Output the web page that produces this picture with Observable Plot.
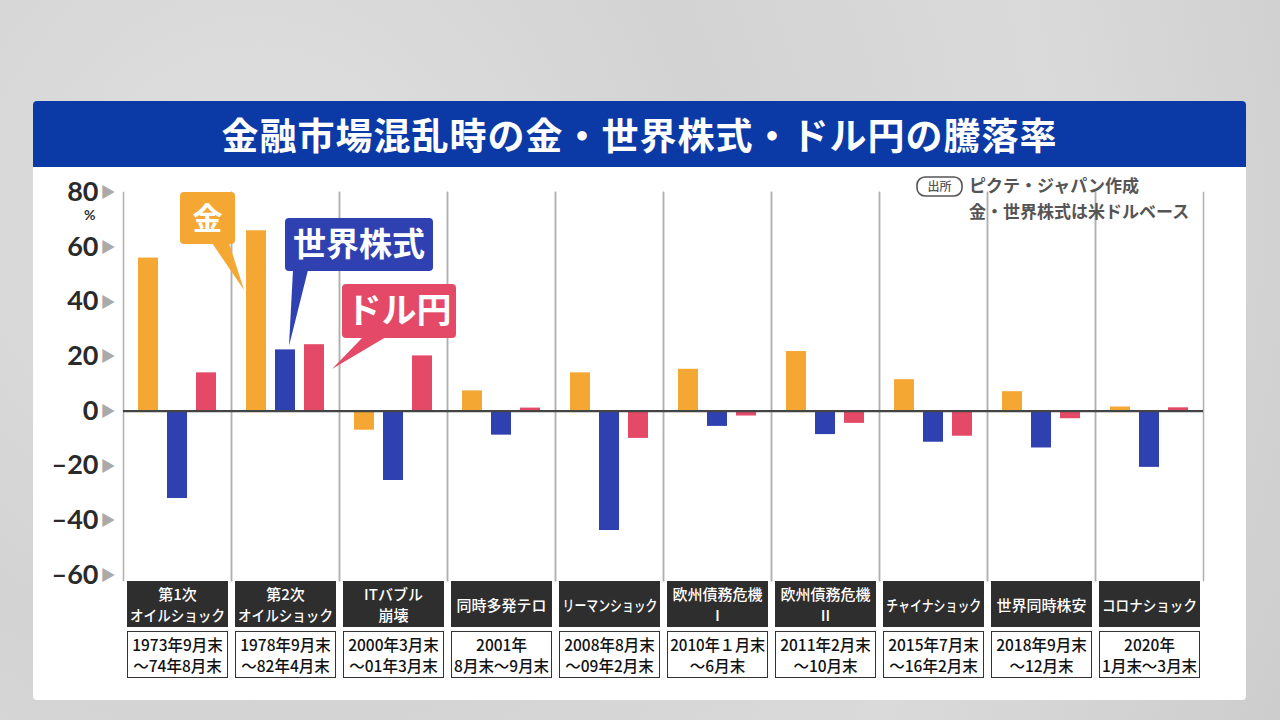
<!DOCTYPE html>
<html><head><meta charset="utf-8">
<script src="https://cdn.jsdelivr.net/npm/d3@7"></script>
<script src="https://cdn.jsdelivr.net/npm/@observablehq/plot@0.6"></script>
<style>
body{margin:0;width:1280px;height:720px;overflow:hidden;background:#d7d7d7;font-family:"Noto Sans CJK JP",sans-serif;position:relative}
#bg{position:absolute;inset:0;background:radial-gradient(circle at 20% 30%,#e0e0e0 0,#d3d3d3 40%,#dadada 70%,#cdcdcd 100%)}
#card{position:absolute;left:33px;top:101px;width:1213px;height:599px;background:#fff;border-radius:4px;overflow:hidden}
#title{position:absolute;left:0;top:0;width:100%;height:66px;background:#0B3AA6;color:#fff;font-weight:700;font-size:37px;text-align:center;line-height:66px;letter-spacing:1px}
#chart{position:absolute;left:33px;top:170px}
#pct{position:absolute;left:84px;top:208px;font-family:Lato,sans-serif;font-size:14px;line-height:14px;font-weight:700;color:#333}
.lab{position:absolute;box-sizing:border-box;width:101px;text-align:center;display:flex;flex-direction:column;align-items:center;justify-content:center;overflow:visible}
.lab span{display:block;white-space:nowrap;transform-origin:center}
.cat{top:581px;height:46px;background:#2e2e2e;color:#fff;font-size:15px;line-height:21px;font-weight:500}
.per{top:631px;height:47px;background:#fff;border:1.5px solid #333;color:#111;font-size:15.5px;line-height:21px;font-weight:500}
#overlay{position:absolute;left:0;top:0}
</style></head>
<body>
<div id="bg"></div>
<div id="card"><div id="title">金融市場混乱時の金・世界株式・ドル円の騰落率</div></div>
<div id="chart"></div>
<div id="pct">%</div>
<div id="labels"></div>
<svg id="overlay" width="1280" height="720">
  <rect x="917" y="177" width="45" height="19" rx="8" fill="none" stroke="#555" stroke-width="1.6"/>
  <text x="939.5" y="191" text-anchor="middle" font-size="12" font-weight="500" fill="#555" font-family="Noto Sans CJK JP">出所</text>
  <text x="969" y="192" font-size="17" font-weight="700" fill="#555" font-family="Noto Sans CJK JP">ピクテ・ジャパン作成</text>
  <text x="969" y="218" font-size="17" font-weight="700" fill="#555" font-family="Noto Sans CJK JP">金・世界株式は米ドルベース</text>

  <rect x="180" y="192" width="55" height="52" rx="4" fill="#F5A733"/>
  <path d="M212,243 L229,243 L244,290 Z" fill="#F5A733"/>
  <text x="207.5" y="229" text-anchor="middle" font-size="30" font-weight="700" fill="#fff" font-family="Noto Sans CJK JP">金</text>

  <rect x="285" y="218" width="148" height="53" rx="4" fill="#2F41B0"/>
  <path d="M293,270 L308,270 L289,346 Z" fill="#2F41B0"/>
  <text x="359" y="256" text-anchor="middle" font-size="33" font-weight="700" fill="#fff" font-family="Noto Sans CJK JP">世界株式</text>

  <rect x="342" y="284" width="114" height="54" rx="4" fill="#E44A68"/>
  <path d="M363,337 L386,337 L332,369 Z" fill="#E44A68"/>
  <text x="399" y="323" text-anchor="middle" font-size="35" font-weight="700" fill="#fff" font-family="Noto Sans CJK JP">ドル円</text>
</svg>
<script>
const eventNames = ["第1次\nオイルショック","第2次\nオイルショック","ITバブル\n崩壊","同時多発テロ","リーマンショック","欧州債務危機\nⅠ","欧州債務危機\nⅡ","チャイナショック","世界同時株安","コロナショック"];
const eventPeriods = ["1973年9月末\n〜74年8月末","1978年9月末\n〜82年4月末","2000年3月末\n〜01年3月末","2001年\n8月末〜9月末","2008年8月末\n〜09年2月末","2010年１月末\n〜6月末","2011年2月末\n〜10月末","2015年7月末\n〜16年2月末","2018年9月末\n〜12月末","2020年\n1月末〜3月末"];
const seriesNames = ["金","世界株式","ドル円"];
const seriesColors = ["#F5A733","#2F41B0","#E44A68"];
const gold   = [56, 66, -7, 7.4, 14, 15.3, 21.8, 11.5, 7.1, 1.5];
const stocks = [-32, 22.4, -25.4, -8.8, -43.7, -5.6, -8.6, -11.4, -13.5, -20.6];
const yen    = [14, 24.3, 20.2, 1.1, -10, -1.8, -4.5, -9.2, -2.8, 1.2];
const yTicks = [80, 60, 40, 20, 0, -20, -40, -60];

const rows = [];
eventNames.forEach((e, i) => {
  rows.push({event: e, series: seriesNames[0], value: gold[i]});
  rows.push({event: e, series: seriesNames[1], value: stocks[i]});
  rows.push({event: e, series: seriesNames[2], value: yen[i]});
});

const chart = Plot.plot({
  width: 1200, height: 420,
  marginLeft: 90, marginRight: 30, marginTop: 22, marginBottom: 10,
  style: {fontFamily: "Lato, 'Noto Sans CJK JP', sans-serif", background: "transparent", overflow: "visible"},
  fx: {domain: eventNames, paddingInner: 0, paddingOuter: 0, axis: null},
  x: {domain: seriesNames, paddingInner: 0.31, paddingOuter: 0.517, axis: null},
  y: {domain: [-62, 80], axis: null},
  color: {domain: seriesNames, range: seriesColors},
  marks: [
    Plot.frame({anchor: "left", stroke: "#b0b0b0", strokeWidth: 1.5}),
    Plot.frame({anchor: "right", stroke: "#b0b0b0", strokeWidth: 1.5}),
    Plot.barY(rows, {fx: "event", x: "series", y: "value", fill: "series"}),
    Plot.ruleY([0], {stroke: "#444", strokeWidth: 2.2}),
    Plot.axisY({ticks: yTicks, tickSize: 0, tickPadding: 25, anchor: "left",
      tickFormat: d => d < 0 ? "\u2013" + (-d) : String(d),
      fontSize: 27, fontWeight: 700, fill: "#2a2a2a", label: null}),
    Plot.axisY({ticks: yTicks, tickSize: 0, tickPadding: 8, anchor: "left",
      tickFormat: () => "▶", fontSize: 15, fill: "#aaaaaa", label: null})
  ]
});
document.getElementById("chart").appendChild(chart);

const labels = document.getElementById("labels");
const step = 108;
function addBox(cls, text, left) {
  const box = document.createElement("div");
  box.className = "lab " + cls;
  box.style.left = left + "px";
  text.split("\n").forEach(line => {
    const s = document.createElement("span");
    s.textContent = line;
    box.appendChild(s);
  });
  labels.appendChild(box);
  box.querySelectorAll("span").forEach(s => {
    const w = s.getBoundingClientRect().width;
    if (w > 95) s.style.transform = `scaleX(${95 / w})`;
  });
}
eventNames.forEach((e, i) => {
  const left = 123 + i * step + 4;
  addBox("cat", e, left);
  addBox("per", eventPeriods[i], left);
});
</script>
</body></html>
